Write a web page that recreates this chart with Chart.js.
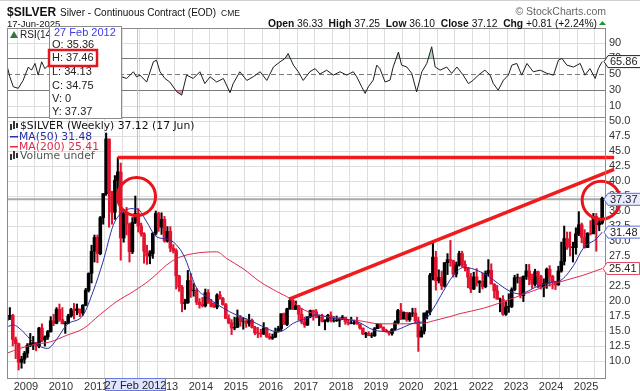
<!DOCTYPE html>
<html>
<head>
<meta charset="utf-8">
<script src="https://cdn.jsdelivr.net/npm/chart.js@4.4.1/dist/chart.umd.min.js"></script>
<style>
  html, body { margin: 0; padding: 0; background: #fff; }
  #wrap { width: 640px; height: 391px; position: relative; }
</style>
</head>
<body>
<div id="wrap"><canvas id="chart" width="640" height="391"></canvas></div>
<script>
// monthly bars, Jun 2008 .. Jun 2025
const firstMonth = [2008, 6];
const firstOpen = 16.8;
const highs = [
  17.9, 18.9, 17.8, 14.0, 13.0, 10.8, 11.6,
  12.9, 14.6, 14.1, 13.1, 15.6, 16.2, 14.2, 15.1, 17.4, 17.8, 18.9, 19.5,
  18.9, 16.6, 17.8, 18.8, 19.6, 19.5, 18.6, 19.4, 22.1, 24.7, 29.3, 31.0,
  31.0, 34.1, 37.9, 48.0, 47.0, 38.3, 40.9, 43.9, 43.0, 35.3, 35.6, 33.0,
  33.9, 37.5, 35.4, 33.0, 31.4, 29.3, 28.4, 31.4, 35.0, 34.8, 34.7, 34.1,
  32.4, 32.4, 29.4, 28.7, 24.3, 22.6, 20.3, 25.1, 24.6, 22.9, 22.1, 20.4,
  20.6, 22.0, 21.9, 20.3, 19.7, 21.2, 21.6, 20.6, 19.6, 17.7, 16.9, 17.3,
  18.5, 17.6, 17.2, 16.9, 17.8, 17.0, 15.8, 15.6, 15.3, 16.4, 15.6, 14.6,
  14.5, 15.5, 15.8, 17.8, 18.0, 18.8, 20.6, 20.5, 20.0, 19.3, 18.8, 17.3,
  17.3, 18.5, 18.5, 18.6, 17.6, 17.8, 16.9, 17.8, 18.2, 17.4, 17.5, 17.2,
  17.6, 17.0, 16.9, 17.3, 16.8, 17.3, 16.1, 15.5, 14.8, 14.9, 14.7, 15.6,
  16.2, 16.2, 15.7, 15.3, 15.0, 15.4, 16.7, 18.6, 19.6, 18.2, 18.1, 18.1,
  18.8, 18.8, 17.3, 15.7, 18.0, 18.4, 24.6, 29.9, 28.3, 25.2, 25.0, 26.4,
  27.9, 30.1, 26.8, 26.5, 28.3, 28.3, 26.7, 25.6, 24.6, 24.8, 25.4, 23.4,
  24.7, 25.0, 26.9, 26.2, 22.9, 22.6, 20.5, 20.9, 19.9, 21.2, 22.2, 24.3,
  24.5, 24.0, 24.2, 26.1, 26.1, 24.5, 25.3, 25.0, 24.3, 23.7, 25.5, 25.9,
  24.3, 23.3, 25.8, 29.8, 32.5, 31.5, 31.5, 29.8, 32.2, 34.9, 33.0, 31.9,
  31.4, 33.4, 34.6, 34.6, 33.7, 37.3
];
const lows = [
  16.2, 16.9, 12.5, 10.4, 8.5, 8.8, 9.6,
  10.6, 12.4, 11.9, 11.7, 12.2, 13.2, 12.5, 13.6, 14.8, 15.9, 16.2, 16.6,
  16.2, 14.6, 16.2, 17.3, 17.0, 17.7, 17.4, 17.6, 19.2, 21.5, 23.0, 26.5,
  26.4, 27.7, 32.8, 37.6, 32.3, 32.8, 33.6, 37.5, 26.8, 29.8, 31.0, 26.5,
  27.9, 32.9, 31.5, 30.8, 26.3, 26.1, 26.2, 27.1, 31.0, 31.6, 31.1, 29.8,
  29.8, 28.2, 28.0, 22.0, 21.6, 18.2, 18.6, 19.6, 20.6, 20.8, 19.4, 18.8,
  19.0, 19.0, 19.6, 19.0, 18.9, 18.7, 20.3, 19.3, 17.1, 16.2, 14.4, 15.2,
  15.6, 15.8, 15.3, 15.6, 15.8, 15.5, 14.4, 13.9, 14.0, 14.4, 13.9, 13.6,
  13.6, 13.9, 14.8, 15.0, 16.1, 15.9, 18.6, 18.6, 18.6, 16.8, 16.2, 15.6,
  15.9, 17.2, 16.8, 17.2, 15.9, 16.5, 15.2, 16.5, 16.5, 16.5, 16.6, 15.7,
  16.9, 16.1, 16.0, 16.2, 16.1, 16.1, 15.3, 14.4, 13.9, 14.4, 13.9, 14.1,
  15.4, 15.5, 15.0, 14.8, 14.3, 14.3, 15.1, 16.2, 16.9, 17.0, 16.6, 16.6,
  17.4, 16.3, 11.6, 14.0, 14.5, 17.0, 17.7, 23.5, 21.8, 23.0, 21.9, 22.3,
  24.4, 25.8, 24.0, 24.0, 25.8, 25.7, 25.0, 22.2, 21.4, 21.9, 22.5, 21.4,
  22.0, 22.2, 24.2, 22.9, 20.5, 20.3, 18.2, 17.6, 17.6, 18.1, 18.9, 21.7,
  23.0, 20.5, 19.9, 23.6, 22.7, 22.1, 22.5, 22.2, 22.0, 20.7, 22.1, 22.5,
  22.0, 21.9, 22.6, 24.8, 26.0, 28.6, 27.5, 26.5, 27.8, 30.9, 29.7, 28.8,
  29.0, 31.0, 31.2, 28.3, 31.7, 32.8
];
const closes = [
  17.5, 17.6, 13.6, 12.9, 9.8, 10.3, 11.3,
  12.6, 12.9, 13.1, 12.5, 15.5, 13.5, 14.0, 14.9, 16.7, 16.3, 18.6, 16.9,
  16.2, 16.3, 17.5, 18.6, 18.4, 18.7, 18.0, 19.3, 21.8, 24.6, 28.3, 30.6,
  27.9, 33.9, 37.9, 47.0, 38.1, 34.8, 40.1, 41.5, 30.5, 34.6, 32.8, 28.2,
  33.1, 34.6, 32.5, 31.2, 28.3, 27.5, 27.9, 31.3, 34.6, 32.3, 33.6, 30.0,
  31.6, 28.8, 28.4, 24.2, 22.3, 19.6, 19.7, 23.4, 21.7, 21.8, 19.8, 19.4,
  19.2, 21.4, 19.7, 19.1, 19.0, 21.0, 20.4, 19.4, 17.1, 16.4, 15.5, 15.6,
  17.2, 16.6, 16.6, 16.3, 16.8, 15.6, 14.7, 14.6, 14.5, 15.5, 14.1, 13.8,
  14.0, 14.9, 15.4, 17.9, 16.1, 18.7, 20.1, 18.6, 19.2, 17.8, 16.5, 16.0,
  17.4, 18.4, 18.2, 17.3, 17.3, 16.6, 16.7, 17.6, 16.7, 16.7, 16.8, 17.0,
  17.3, 16.5, 16.3, 16.3, 16.4, 16.2, 15.5, 14.5, 14.6, 14.2, 14.2, 15.4,
  16.1, 15.6, 15.1, 14.9, 14.6, 15.3, 16.4, 18.4, 17.0, 18.1, 16.9, 17.9,
  18.0, 16.7, 14.0, 15.0, 18.0, 18.2, 24.3, 27.3, 23.4, 23.9, 22.5, 26.4,
  26.9, 26.7, 24.5, 26.0, 27.9, 26.1, 25.5, 24.0, 22.0, 24.0, 23.0, 23.3,
  22.4, 24.6, 25.1, 22.8, 21.7, 20.3, 20.3, 17.8, 19.0, 19.1, 21.9, 23.9,
  23.9, 20.9, 24.1, 25.0, 23.6, 22.8, 24.9, 24.1, 22.3, 22.9, 25.3, 24.1,
  23.2, 22.7, 25.0, 26.6, 30.4, 29.1, 28.9, 28.9, 31.2, 32.7, 30.6, 28.9,
  31.3, 31.2, 34.1, 32.7, 33.0, 37.1
];

// moving averages: [year, value]
const ma50 = [
  [2008.46, 15.7], [2008.64, 16.0], [2008.9, 15.0], [2009.2, 13.2], [2009.62, 12.1],
  [2009.9, 13.8], [2010.16, 16.0], [2010.64, 17.7], [2010.92, 21.6], [2011.2, 26.5],
  [2011.5, 32.7], [2011.78, 34.9], [2012.07, 35.4], [2012.2, 35.3], [2012.45, 33.2],
  [2012.69, 30.9], [2012.92, 30.4], [2013.11, 30.2], [2013.5, 27.7], [2013.88, 22.1],
  [2014.16, 20.7], [2014.64, 18.8], [2015.0, 17.7], [2015.4, 16.8], [2015.78, 15.7],
  [2016.16, 14.9], [2016.35, 15.1], [2016.64, 16.3], [2017.02, 17.1], [2017.3, 17.7],
  [2017.78, 17.1], [2018.45, 16.6], [2018.92, 15.2], [2019.4, 14.9], [2019.69, 15.4],
  [2020.07, 16.3], [2020.35, 16.6], [2020.64, 18.8], [2020.92, 21.6], [2021.2, 24.2],
  [2021.5, 25.6], [2021.8, 25.3], [2022.16, 24.3], [2022.83, 21.6], [2023.1, 21.2],
  [2023.6, 22.4], [2024.07, 23.2], [2024.26, 23.4], [2024.64, 25.9], [2024.92, 28.8],
  [2025.3, 30.4], [2025.46, 31.48]
];
const ma200 = [
  [2008.46, 11.3], [2008.83, 12.1], [2009.2, 12.7], [2009.7, 13.2], [2010.17, 14.3],
  [2010.64, 15.4], [2011.11, 17.7], [2011.59, 19.9], [2012.07, 21.6], [2012.54, 23.5],
  [2013.02, 26.0], [2013.31, 27.1], [2013.78, 27.9], [2014.45, 28.2], [2014.73, 27.1],
  [2015.2, 25.4], [2015.69, 23.2], [2016.16, 21.6], [2016.54, 20.4], [2016.83, 18.9],
  [2017.4, 17.6], [2017.97, 17.1], [2018.54, 16.7], [2019.11, 16.2], [2019.69, 16.2],
  [2020.35, 16.3], [2020.64, 16.7], [2021.11, 17.4], [2021.4, 17.9], [2022.07, 18.8],
  [2023.02, 20.7], [2023.97, 22.7], [2024.92, 24.3], [2025.46, 25.41]
];

// RSI(14): [year, value]
const rsi = [
  [2008.47, 59], [2008.54, 46.6], [2008.64, 34], [2008.78, 32], [2008.92, 42], [2009.07, 59],
  [2009.16, 55], [2009.26, 63.5], [2009.35, 48.7], [2009.45, 65.6], [2009.54, 57], [2009.64, 61],
  [2009.75, 60], [2009.9, 68], [2010.05, 45], [2010.15, 38], [2010.3, 55], [2010.45, 58],
  [2010.6, 50], [2010.75, 68], [2010.9, 78], [2011.0, 62], [2011.1, 72], [2011.25, 85],
  [2011.35, 58], [2011.45, 45], [2011.55, 58], [2011.65, 64],
  [2011.73, 46.6], [2011.88, 44.5], [2012.07, 53], [2012.16, 46.6], [2012.26, 48.7], [2012.45, 40],
  [2012.64, 65.6], [2012.73, 67.7], [2012.83, 53], [2012.97, 44.5], [2013.11, 40], [2013.31, 27.6],
  [2013.45, 23.4], [2013.59, 48.7], [2013.78, 44.5], [2013.97, 53], [2014.11, 38], [2014.26, 46.6],
  [2014.45, 40], [2014.64, 44.5], [2014.83, 26.5], [2014.92, 38], [2015.11, 53], [2015.31, 42],
  [2015.49, 46.6], [2015.69, 53], [2015.88, 42], [2016.07, 59], [2016.26, 65.6], [2016.4, 69.9],
  [2016.49, 76], [2016.64, 61.4], [2016.78, 53], [2016.92, 42], [2017.11, 53], [2017.26, 57],
  [2017.4, 50], [2017.59, 55], [2017.78, 48.7], [2017.97, 53], [2018.16, 48.7], [2018.35, 53],
  [2018.45, 46.6], [2018.59, 34], [2018.69, 25.6], [2018.78, 34], [2018.92, 42.4], [2019.02, 61.4],
  [2019.11, 57], [2019.26, 40], [2019.4, 42.4], [2019.49, 59], [2019.64, 78], [2019.73, 61.4],
  [2019.88, 59], [2020.02, 51], [2020.16, 27.5], [2020.31, 53], [2020.45, 63.5], [2020.59, 84.6],
  [2020.69, 59], [2020.83, 55], [2021.02, 59], [2021.16, 51], [2021.31, 59], [2021.49, 48.7],
  [2021.64, 38], [2021.78, 42.4], [2021.92, 48.7], [2022.11, 55], [2022.26, 48.7], [2022.35, 38],
  [2022.49, 29.7], [2022.64, 42.4], [2022.78, 48.7], [2022.88, 61.4], [2023.02, 63.5], [2023.16, 48.7],
  [2023.31, 63.5], [2023.49, 53], [2023.69, 55], [2023.88, 51], [2024.07, 48.7], [2024.21, 67.7],
  [2024.31, 69.9], [2024.45, 61.4], [2024.64, 59], [2024.83, 63.5], [2024.97, 48.7], [2025.11, 57],
  [2025.26, 44.5], [2025.35, 57], [2025.46, 65.86]
];

// drawn-in annotations: [year, price]
const resistanceLine = [[2011.62, 43.9], [2025.8, 43.9]];
const trendLine = [[2016.52, 20.3], [2025.8, 41.95]];
const highlightCircles = [[2012.16, 37.4], [2025.43, 36.8]];

const xTicksStep = 0.5;
const priceTicks = [10, 50];
const rsiTicks = [10, 30, 50, 70, 90];
const cursor = { x: 2012.16, y: 36.95, label: '37.37' };
const lastValues = { rsi: '65.86', ma50: 31.48, ma200: 25.41 };

const FONT = "'Liberation Sans', Arial, sans-serif";
const UP = '#000000', DOWN = '#e3132f';

const toXY = arr => arr.map(p => ({ x: p[0], y: p[1] }));
const barTimes = closes.map((_, i) => firstMonth[0] + (firstMonth[1] - 1 + i) / 12 + 1 / 24);
const opens = closes.map((_, i) => i === 0 ? firstOpen : closes[i - 1]);
const barColors = closes.map((c, i) => c >= opens[i] ? UP : DOWN);
const wicks = barTimes.map((t, i) => ({ x: t, y: [lows[i], highs[i]] }));
const bodies = barTimes.map((t, i) => ({ x: t, y: [Math.min(opens[i], closes[i]), Math.max(opens[i], closes[i])] }));

function tag(ctx, x, yc, text, stroke, fill) {
  ctx.font = '11px ' + FONT;
  const w = ctx.measureText(text).width + 5, h = 12;
  ctx.beginPath();
  ctx.moveTo(x, yc);
  ctx.lineTo(x + 4, yc - h / 2);
  ctx.lineTo(x + 4 + w, yc - h / 2);
  ctx.lineTo(x + 4 + w, yc + h / 2);
  ctx.lineTo(x + 4, yc + h / 2);
  ctx.closePath();
  ctx.fillStyle = fill; ctx.fill();
  ctx.lineWidth = 1; ctx.strokeStyle = stroke; ctx.stroke();
  ctx.fillStyle = '#222'; ctx.textBaseline = 'middle'; ctx.textAlign = 'left';
  ctx.fillText(text, x + 6, yc + 0.5);
}

function candleIcon(ctx, x, y) {
  ctx.fillStyle = '#333';
  [[0, 3, 6], [3, 0, 8], [6, 2, 5]].forEach(b => ctx.fillRect(x + b[0], y + b[1], 2, b[2]));
}

const noPad = s => { s.paddingLeft = 0; s.paddingRight = 0; s.paddingTop = 0; s.paddingBottom = 0; };

const panels = {
  id: 'panels',
  beforeDraw(chart) {
    const { ctx, width, height } = chart;
    ctx.save();
    ctx.fillStyle = '#fff';
    ctx.fillRect(0, 0, width, height);
    ctx.restore();
  },
  beforeDatasetsDraw(chart) {
    const { ctx, chartArea: a, scales } = chart;
    const yR = scales.yR, x = scales.x, y = scales.y;
    ctx.save();
    rsiTicks.forEach(v => {
      const py = Math.round(yR.getPixelForValue(v)) + 0.5;
      ctx.beginPath();
      ctx.setLineDash(v === 50 ? [5, 3] : []);
      ctx.strokeStyle = (v === 30 || v === 70 || v === 50) ? '#7a7a7a' : '#dcdcdc';
      ctx.lineWidth = 1;
      ctx.moveTo(a.left, py); ctx.lineTo(a.right, py); ctx.stroke();
    });
    ctx.setLineDash([]);
    // cursor cross
    const cx = Math.round(x.getPixelForValue(cursor.x)) + 0.5;
    ctx.strokeStyle = '#c4c4c4';
    ctx.beginPath(); ctx.moveTo(cx, a.top); ctx.lineTo(cx, a.bottom); ctx.stroke();
    const cy = y.getPixelForValue(cursor.y);
    ctx.strokeStyle = '#a9a9a9'; ctx.lineWidth = 2;
    ctx.beginPath(); ctx.moveTo(a.left, cy); ctx.lineTo(a.right + 2, cy); ctx.stroke();
    ctx.restore();
  },
  afterDraw(chart) {
    const { ctx, chartArea: a, scales } = chart;
    const yR = scales.yR, y = scales.y;
    ctx.save();
    // panel frames
    const sepY = Math.round(y.getPixelForValue(50.67)) + 0.5;
    ctx.strokeStyle = '#8a8a8a'; ctx.lineWidth = 1;
    ctx.strokeRect(a.left + 0.5, a.top + 0.5, a.right - a.left, a.bottom - a.top);
    ctx.beginPath(); ctx.moveTo(a.left, sepY); ctx.lineTo(a.right, sepY); ctx.stroke();
    ctx.strokeStyle = '#d0d0d0';
    ctx.beginPath(); ctx.moveTo(0, 0.5); ctx.lineTo(640, 0.5); ctx.stroke();

    // RSI axis labels
    ctx.font = '11px ' + FONT; ctx.fillStyle = '#333';
    ctx.textAlign = 'left'; ctx.textBaseline = 'middle';
    rsiTicks.forEach(v => ctx.fillText(String(v), a.right + 4, yR.getPixelForValue(v)));
    tag(ctx, a.right - 1, yR.getPixelForValue(parseFloat(lastValues.rsi)), lastValues.rsi, '#222', '#fff');

    // price tags
    tag(ctx, a.right - 1, y.getPixelForValue(cursor.y), cursor.label, '#5b6bdc', '#e9ecff');
    tag(ctx, a.right - 1, y.getPixelForValue(lastValues.ma50), lastValues.ma50.toFixed(2), '#5b6bdc', '#fff');
    tag(ctx, a.right - 2, y.getPixelForValue(lastValues.ma200), lastValues.ma200.toFixed(2), '#e0445c', '#fff');

    // header
    ctx.textBaseline = 'alphabetic'; ctx.fillStyle = '#111'; ctx.textAlign = 'left';
    ctx.font = 'bold 12px ' + FONT;
    ctx.fillText('$SILVER', 7, 16);
    ctx.font = '10px ' + FONT;
    ctx.fillText('Silver - Continuous Contract (EOD)', 60, 16);
    ctx.font = '8.5px ' + FONT;
    ctx.fillText('CME', 221, 16);
    ctx.font = '9.5px ' + FONT;
    ctx.fillText('17-Jun-2025', 7, 27);
    ctx.fillStyle = '#666'; ctx.textAlign = 'right';
    ctx.font = '10.5px ' + FONT;
    ctx.fillText('\u00a9 StockCharts.com', 606, 15);
    const parts = [['Open', 1], [' 36.33  ', 0], ['High', 1], [' 37.25  ', 0], ['Low', 1], [' 36.10  ', 0],
      ['Close', 1], [' 37.12  ', 0], ['Chg', 1], [' +0.81 (+2.24%)', 0]];
    let px = 597;
    ctx.fillStyle = '#111';
    for (let i = parts.length - 1; i >= 0; i--) {
      ctx.font = (parts[i][1] ? 'bold ' : '') + '10.3px ' + FONT;
      ctx.fillText(parts[i][0], px, 27);
      px -= ctx.measureText(parts[i][0]).width;
    }
    ctx.fillStyle = '#1a9a2a';
    ctx.beginPath(); ctx.moveTo(599, 25); ctx.lineTo(606, 25); ctx.lineTo(602.5, 21); ctx.closePath(); ctx.fill();

    // RSI panel label
    ctx.textAlign = 'left';
    ctx.fillStyle = '#2f7a3a';
    ctx.beginPath(); ctx.moveTo(10, 38); ctx.lineTo(14, 31); ctx.lineTo(18, 38); ctx.closePath(); ctx.fill();
    ctx.fillStyle = '#222'; ctx.font = '10px ' + FONT;
    ctx.fillText('RSI(14) 65.86', 20, 38);

    // price panel legend
    ctx.font = "10.8px 'DejaVu Sans', Verdana, sans-serif";
    candleIcon(ctx, 10, 121);
    ctx.fillStyle = '#111'; ctx.fillText('$SILVER (Weekly) 37.12 (17 Jun)', 20, 129);
    ctx.fillStyle = '#2b2fa6'; ctx.fillRect(10, 136, 8, 1.5); ctx.fillText('MA(50) 31.48', 19, 140);
    ctx.fillStyle = '#df2a4e'; ctx.fillRect(10, 146, 8, 1.5); ctx.fillText('MA(200) 25.41', 19, 150);
    candleIcon(ctx, 10, 151);
    ctx.fillStyle = '#555'; ctx.fillText('Volume undef', 20, 159);

    // hover box
    ctx.fillStyle = '#fff'; ctx.fillRect(49, 26, 72, 92);
    ctx.strokeStyle = '#8c8c8c'; ctx.lineWidth = 1; ctx.strokeRect(49.5, 26.5, 72, 92);
    ctx.font = '11px ' + FONT;
    ctx.fillStyle = '#3b3bea'; ctx.fillText('27 Feb 2012', 54, 36);
    ctx.fillStyle = '#222';
    [['O: 35.36', 48], ['H: 37.46', 61], ['L: 34.13', 75], ['C: 34.75', 89], ['V: 0', 102], ['Y: 37.37', 115]]
      .forEach(r => ctx.fillText(r[0], 52, r[1]));
    ctx.strokeStyle = '#e8141c'; ctx.lineWidth = 2.5;
    ctx.strokeRect(49, 50, 48, 16);

    // date box on axis
    ctx.fillStyle = '#dfe4ff'; ctx.fillRect(105, 378, 61, 12);
    ctx.strokeStyle = '#6a78e6'; ctx.lineWidth = 1; ctx.strokeRect(105.5, 378.5, 60, 12);
    ctx.fillStyle = '#222'; ctx.textAlign = 'center'; ctx.font = '11px ' + FONT;
    ctx.fillText('27 Feb 2012', 135.5, 388.5);
    ctx.restore();
  }
};

new Chart(document.getElementById('chart').getContext('2d'), {
  type: 'bar',
  data: {
    datasets: [
      {
        type: 'line', label: 'RSI', yAxisID: 'yR', data: toXY(rsi),
        borderColor: '#1e1e1e', borderWidth: 1, pointRadius: 0, tension: 0,
        fill: { target: { value: 30 }, above: 'rgba(0,0,0,0)', below: 'rgba(200,70,110,0.55)' },
        order: 9
      },
      {
        type: 'line', label: 'RSI high', yAxisID: 'yR', data: toXY(rsi),
        borderWidth: 0, pointRadius: 0, tension: 0,
        fill: { target: { value: 70 }, above: 'rgba(80,170,90,0.45)', below: 'rgba(0,0,0,0)' },
        order: 10
      },
      {
        label: 'wick', yAxisID: 'y', data: wicks, grouped: false, barThickness: 1.4,
        backgroundColor: barColors, borderWidth: 0, order: 8
      },
      {
        label: 'body', yAxisID: 'y', data: bodies, grouped: false, barThickness: 2.95,
        backgroundColor: barColors, borderWidth: 0, order: 7
      },
      {
        type: 'line', label: 'MA(200)', yAxisID: 'y', data: toXY(ma200),
        borderColor: '#df2a4e', borderWidth: 1, pointRadius: 0, cubicInterpolationMode: 'monotone', order: 6
      },
      {
        type: 'line', label: 'MA(50)', yAxisID: 'y', data: toXY(ma50),
        borderColor: '#2b2fa6', borderWidth: 1, pointRadius: 0, cubicInterpolationMode: 'monotone', order: 5
      },
      {
        type: 'line', label: 'resistance', yAxisID: 'y', data: toXY(resistanceLine),
        borderColor: '#ee1c1c', borderWidth: 3.5, pointRadius: 0, clip: false, order: 3
      },
      {
        type: 'line', label: 'trend', yAxisID: 'y', data: toXY(trendLine),
        borderColor: '#ee1c1c', borderWidth: 3.5, pointRadius: 0, clip: false, order: 2
      },
      {
        type: 'scatter', label: 'circles', yAxisID: 'y', data: toXY(highlightCircles),
        pointRadius: 19, pointHoverRadius: 19, pointStyle: 'circle', borderColor: '#e8141c',
        backgroundColor: 'rgba(0,0,0,0)', pointBorderWidth: 3, borderWidth: 3, clip: false, order: 1
      }
    ]
  },
  options: {
    responsive: false,
    animation: false,
    devicePixelRatio: 1,
    layout: { autoPadding: false, padding: { left: 7, top: 28, right: 0, bottom: 0 } },
    plugins: { legend: { display: false }, tooltip: { enabled: false } },
    events: [],
    scales: {
      x: {
        type: 'linear', offset: false, min: 2008.46, max: 2025.54,
        afterFit: s => { s.height = 13; noPad(s); },
        border: { display: false },
        grid: { color: '#dedede', drawTicks: false },
        ticks: {
          stepSize: xTicksStep, includeBounds: false, autoSkip: false, maxRotation: 0, padding: 2,
          color: '#333', font: { family: FONT, size: 11 },
          callback: v => Number.isInteger(v) ? String(v) : ''
        }
      },
      y: {
        type: 'linear', position: 'right', min: 7.17, max: 65.5,
        afterFit: s => { s.width = 35; noPad(s); },
        afterBuildTicks: s => { s.ticks = s.ticks.filter(t => t.value >= priceTicks[0] && t.value <= priceTicks[1]); },
        border: { display: false },
        grid: { color: '#dedede', drawTicks: false },
        ticks: {
          stepSize: 2.5, includeBounds: false, padding: 4,
          color: '#333', font: { family: FONT, size: 11 },
          callback: v => v.toFixed(1)
        }
      },
      yR: { type: 'linear', display: false, min: -334.8, max: 108.4 }
    }
  },
  plugins: [panels]
});
</script>
</body>
</html>
